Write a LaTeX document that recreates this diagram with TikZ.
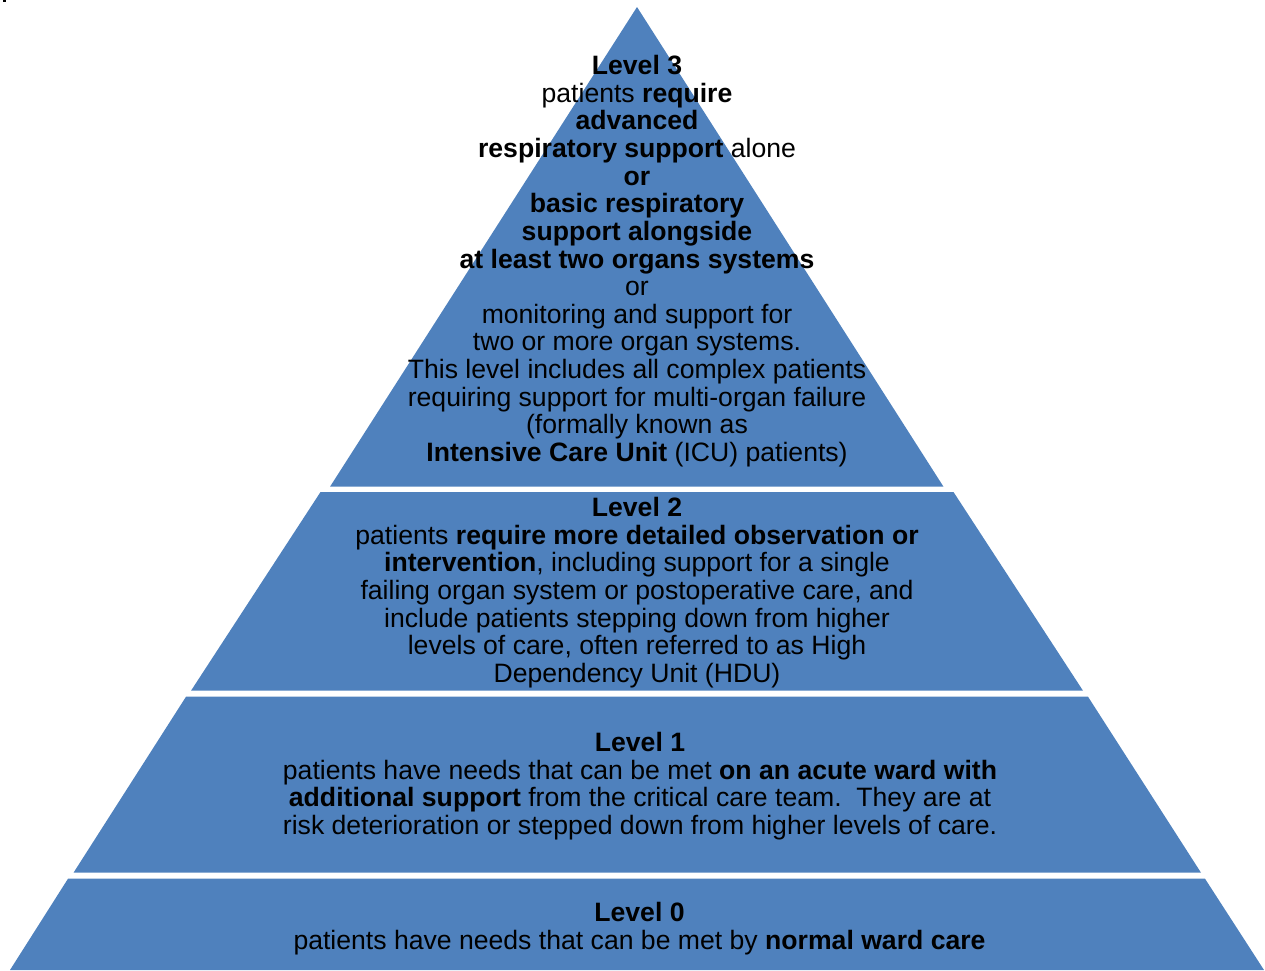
\documentclass[tikz,border=0pt]{standalone}
\usepackage{fontspec}
\setmainfont{Liberation Sans}
\definecolor{pyrblue}{HTML}{4F81BD}
\begin{document}
\begin{tikzpicture}[x=1pt,y=-1pt,
  band/.style={fill=pyrblue,draw=none},
  txt/.style={align=center,inner sep=0pt,font=\fontsize{26.6}{27.65}\selectfont,text=black}]
\useasboundingbox (0,0) rectangle (1265,970);
\fill[black] (3,0) rectangle (6,1.7);
% bands
\fill[band] (637,7) -- (943.5,486.7) -- (330,486.7) -- cycle;
\fill[band] (320.5,492) -- (953.5,492) -- (1083,690.7) -- (191,690.7) -- cycle;
\fill[band] (186,696.7) -- (1088,696.7) -- (1201,872.7) -- (73.5,872.7) -- cycle;
\fill[band] (68,878.7) -- (1205,878.7) -- (1264,970) -- (10,970) -- cycle;
% texts
\node[txt,anchor=north] (l3) at (637,55) {\textbf{Level 3}\\
patients \textbf{require}\\
\textbf{advanced}\\
\textbf{respiratory support} alone\\
\textbf{or}\\
\textbf{basic respiratory}\\
\textbf{support alongside}\\
\textbf{at least two organs systems}\\
or\\
monitoring and support for\\
two or more organ systems.\\
This level includes all complex patients\\
requiring support for multi-organ failure\\
(formally known as\\
\textbf{Intensive Care Unit} (ICU) patients)};
\node[txt,anchor=north] (l2) at (637,497) {\textbf{Level 2}\\
patients \textbf{require more detailed observation or}\\
\textbf{intervention}, including support for a single\\
failing organ system or postoperative care, and\\
include patients stepping down from higher\\
levels of care, often referred to as High\\
Dependency Unit (HDU)};
\node[txt,anchor=north] (l1) at (640,732) {\textbf{Level 1}\\
patients have needs that can be met \textbf{on an acute ward with}\\
\textbf{additional support} from the critical care team.\ \ They are at\\
risk deterioration or stepped down from higher levels of care.};
\node[txt,anchor=north] (l0) at (639.5,902) {\textbf{Level 0}\\
patients have needs that can be met by \textbf{normal ward care}};
\end{tikzpicture}
\end{document}
